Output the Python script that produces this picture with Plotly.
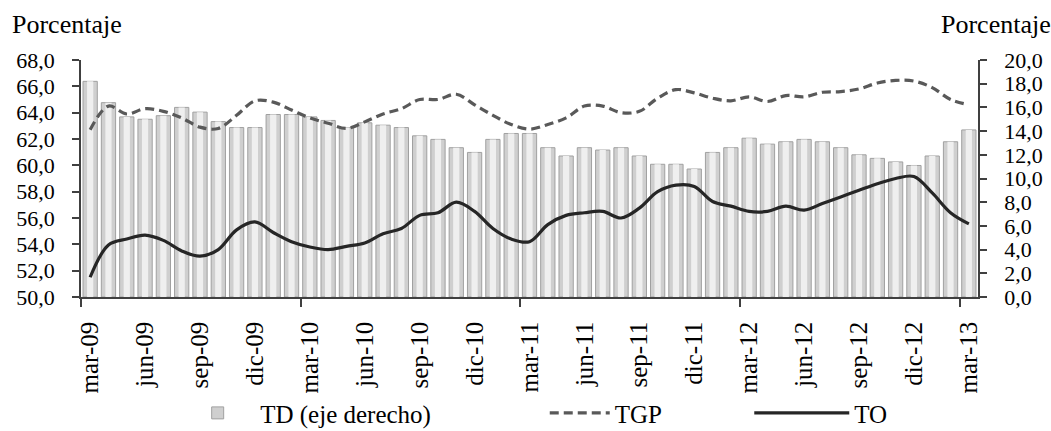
import plotly.graph_objects as go

month_names = ["ene", "feb", "mar", "abr", "may", "jun", "jul", "ago", "sep", "oct", "nov", "dic"]
months = []
for y in range(2009, 2014):
    for m in range(12):
        if (y == 2009 and m < 2) or (y == 2013 and m > 2):
            continue
        months.append(f"{month_names[m]}-{str(y)[2:]}")

td = [18.2, 16.4, 15.2, 15.0, 15.3, 16.0, 15.6, 14.8, 14.3, 14.3, 15.4, 15.4, 15.2, 14.9, 14.3,
      14.7, 14.5, 14.3, 13.6, 13.3, 12.6, 12.2, 13.3, 13.8, 13.8,
      12.6, 11.9, 12.6, 12.4, 12.6, 11.9, 11.2, 11.2,
      10.8, 12.2, 12.6, 13.4, 12.9, 13.1, 13.3, 13.1, 12.6, 12.0, 11.7, 11.4, 11.1, 11.9, 13.1, 14.1]

tgp = [62.7, 64.5, 63.9, 64.3, 64.1, 63.6, 62.9, 62.8, 63.8, 64.9, 64.8, 64.2, 63.6, 63.2, 62.8,
       63.3, 63.9, 64.3, 65.0, 65.0, 65.4, 64.6, 63.8, 63.1, 62.75,
       63.1, 63.6, 64.5, 64.5, 64.0, 64.1, 65.1, 65.75,
       65.5, 65.1, 64.9, 65.2, 64.85, 65.3, 65.2, 65.55, 65.6, 65.8, 66.25, 66.45, 66.4, 65.9, 65.0, 64.6]

to = [51.5, 53.95, 54.4, 54.7, 54.3, 53.5, 53.1, 53.6, 55.1, 55.7, 54.9, 54.2, 53.8, 53.6, 53.85,
      54.1, 54.8, 55.2, 56.2, 56.4, 57.2, 56.5, 55.2, 54.4, 54.2,
      55.5, 56.2, 56.4, 56.5, 56.0, 56.75, 58.0, 58.5,
      58.4, 57.25, 56.9, 56.5, 56.5, 56.9, 56.6, 57.1, 57.6, 58.1, 58.6, 59.0, 59.15, 57.9, 56.4, 55.55]

x = list(range(len(months)))
label_idx = x[::3]
label_txt = [months[i] for i in label_idx]
year_bounds = [i - 0.5 for i in x[::12]]

FONT = "Liberation Serif"
AXC = "#404040"
LEG_Y = -0.49

fig = go.Figure()
# bars on the primary (right-side) axis so the lines on the overlaying axis are drawn on top
fig.add_trace(go.Bar(x=x, y=td, yaxis="y", name="TD (eje derecho)", width=0.78,
                     marker=dict(color="#cfcfcf", line=dict(color="#a0a0a0", width=1)),
                     legend="legend"))
fig.add_trace(go.Bar(x=x, y=td, yaxis="y", showlegend=False, width=0.34,
                     marker=dict(color="#efefef", line=dict(width=0)), hoverinfo="skip"))
fig.add_trace(go.Scatter(x=x, y=tgp, yaxis="y2", mode="lines", name="TGP", line_shape="spline",
                         line=dict(color="#595959", width=3.2, dash="9px,5px"), legend="legend2"))
fig.add_trace(go.Scatter(x=x, y=to, yaxis="y2", mode="lines", name="TO", line_shape="spline",
                         line=dict(color="#262626", width=3.2), legend="legend3"))

axis_common = dict(showgrid=False, zeroline=False, showline=True, linecolor=AXC, linewidth=1.5,
                   ticks="outside", ticklen=7, tickcolor=AXC, tickwidth=1.5,
                   tickfont=dict(family=FONT, size=22), ticklabelstandoff=13, tickformat=".1f")

leg_common = dict(orientation="h", xanchor="left", y=LEG_Y, yanchor="middle",
                  font=dict(family=FONT, size=25, color="black"), bgcolor="rgba(0,0,0,0)",
                  borderwidth=0)

fig.update_layout(
    width=1051, height=431,
    margin=dict(l=81, r=73, t=60, b=134, autoexpand=False),
    plot_bgcolor="white", paper_bgcolor="white",
    barmode="overlay",
    separators=",.",
    font=dict(family=FONT, size=24, color="black"),
    xaxis=dict(range=[-0.5, len(months) - 0.5], tickmode="array", tickvals=label_idx, ticktext=label_txt,
               tickangle=-90, ticks="", showgrid=False, zeroline=False,
               showline=True, linecolor=AXC, linewidth=1.5,
               tickfont=dict(family=FONT, size=25), ticklabelstandoff=13,
               minor=dict(tickmode="array", tickvals=year_bounds, ticks="outside", ticklen=8,
                          tickcolor=AXC, tickwidth=1.5, showgrid=False)),
    yaxis=dict(range=[0, 20], dtick=2, tick0=0, side="right", **axis_common),
    yaxis2=dict(range=[50, 68], dtick=2, tick0=50, side="left", overlaying="y", **axis_common),
    legend=dict(x=0.105, itemwidth=75, **leg_common),
    legend2=dict(x=0.517, itemwidth=60, **leg_common),
    legend3=dict(x=0.745, itemwidth=95, **leg_common),
    annotations=[
        dict(text="Porcentaje", xref="paper", yref="paper", x=-0.079, y=1.148, xanchor="left",
             yanchor="middle", showarrow=False, font=dict(family=FONT, size=26)),
        dict(text="Porcentaje", xref="paper", yref="paper", x=1.0835, y=1.148, xanchor="right",
             yanchor="middle", showarrow=False, font=dict(family=FONT, size=26)),
    ],
)

fig.write_html("out.html")
